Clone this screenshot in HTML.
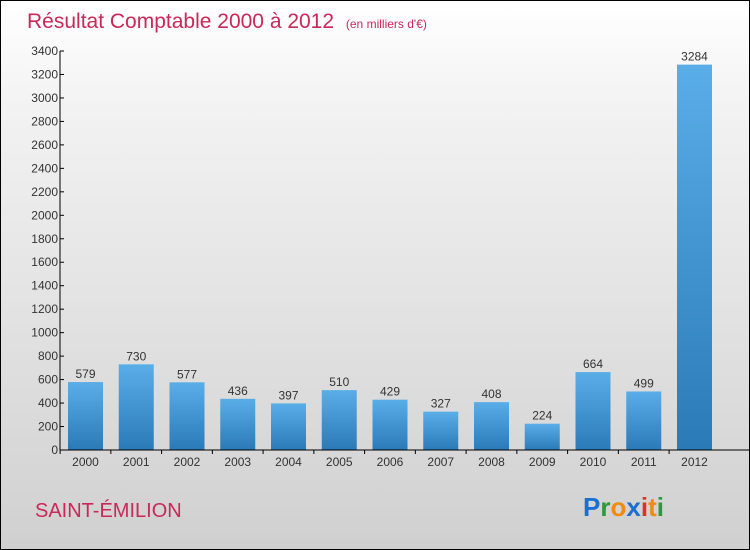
<!DOCTYPE html>
<html><head><meta charset="utf-8"><style>
body{margin:0}
#c{width:750px;height:550px;position:relative;box-sizing:border-box;border:1px solid #000;background:linear-gradient(#ffffff,#f2f2f2 20%,#d0d0d0);font-family:"Liberation Sans",sans-serif;overflow:hidden}
</style></head><body>
<div id="c">
<svg width="748" height="548" style="position:absolute;left:0;top:0" id="svg">
<defs><linearGradient id="bg" x1="0" y1="0" x2="0" y2="1"><stop offset="0" stop-color="#5aaee8"/><stop offset="1" stop-color="#2a7ab8"/></linearGradient></defs>
<text x="26" y="27" font-size="21" fill="#c8285a">Résultat Comptable 2000 à 2012 <tspan font-size="12" dx="6">(en milliers d'€)</tspan></text>
<text x="34" y="516" font-size="20" fill="#c8285a">SAINT-ÉMILION</text>
<g id="plot"></g>
<text x="582" y="515" font-size="26" font-weight="bold"><tspan fill="#1a6fd0">P</tspan><tspan fill="#2a9a3a">r</tspan><tspan fill="#f08a10">o</tspan><tspan fill="#1a6fd0">x</tspan><tspan fill="#e03020">i</tspan><tspan fill="#f08a10">t</tspan><tspan fill="#2a9a3a">i</tspan></text>
</svg>
</div>
<script>
const categories=["2000","2001","2002","2003","2004","2005","2006","2007","2008","2009","2010","2011","2012"];
const values=[579,730,577,436,397,510,429,327,408,224,664,499,3284];
const yTicks=[0,200,400,600,800,1000,1200,1400,1600,1800,2000,2200,2400,2600,2800,3000,3200,3400];
const ns="http://www.w3.org/2000/svg";
const g=document.getElementById("plot");
const y0=449,ppu=(449-50)/3400,ax=59;
const y=v=>y0-v*ppu;
const x=i=>84.5+i*50.75;
function mk(t,a){const e=document.createElementNS(ns,t);for(const k in a)e.setAttribute(k,a[k]);g.appendChild(e);return e;}
yTicks.forEach(t=>{
 const l=mk("line",{x1:ax,x2:ax+4,y1:y(t),y2:y(t),stroke:"#000"});
 
 
 const tx=mk("text",{x:ax-2,y:y(t)+4,"font-size":12,"text-anchor":"end",fill:"#333"});
 tx.textContent=t;
 
 
});
values.forEach((v,i)=>{
 const r=mk("rect",{x:x(i)-17.5,y:y(v),width:35,height:v*ppu,fill:"url(#bg)"});
 
 
 const t=mk("text",{x:x(i),y:y(v)-4,"font-size":12,"text-anchor":"middle",fill:"#333"});
 t.textContent=v;
 
 
 const c=mk("text",{x:x(i),y:y0+16,"font-size":12,"text-anchor":"middle",fill:"#333"});
 c.textContent=categories[i];
 
 
 const tk=mk("line",{x1:x(i)-25.4,x2:x(i)-25.4,y1:y0,y2:y0+4,stroke:"#000"});
 
 
});
const ya=mk("line",{x1:ax,x2:ax,y1:y(3400),y2:y0,stroke:"#000"});


const xa=mk("line",{x1:ax,x2:748,y1:y0,y2:y0,stroke:"#000"});


</script>
</body></html>
